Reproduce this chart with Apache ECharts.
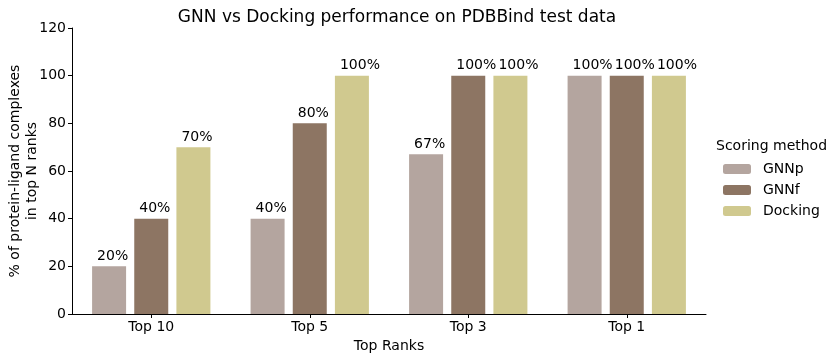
<!DOCTYPE html>
<html><head><meta charset="utf-8">
<script src="https://cdn.jsdelivr.net/npm/echarts@6/dist/echarts.min.js"></script>
<style>html,body{margin:0;padding:0;background:#fff}#c{width:839px;height:360px}</style>
</head><body><div id="c"></div>
<script>
const categories = ['Top 10', 'Top 5', 'Top 3', 'Top 1'];
const seriesNames = ['GNNp', 'GNNf', 'Docking'];
const gnnp = [20, 40, 67, 100];
const gnnf = [40, 80, 100, 100];
const docking = [70, 100, 100, 100];
const yTicks = [0, 20, 40, 60, 80, 100, 120];
const colors = ['#b4a59f', '#8d7563', '#d0c98f'];

const font = 'DejaVu Sans';
const chart = echarts.init(document.getElementById('c'));
const mk = (name, data, color) => ({
  name, type: 'bar', data, barWidth: 34, barGap: '24%',
  itemStyle: { color },
  label: { show: true, position: 'top', align: 'left', offset: [-12, 0], distance: 3,
    formatter: p => p.value + '%', color: '#000', fontFamily: font, fontSize: 14 }
});
chart.setOption({
  animation: false,
  textStyle: { fontFamily: font },
  title: { text: 'GNN vs Docking performance on PDBBind test data', left: 392, top: 4, textAlign: 'center',
    textStyle: { fontFamily: font, fontSize: 17, fontWeight: 'normal', color: '#000' } },
  grid: { left: 72, right: 133, top: 28, bottom: 46, containLabel: false, outerBoundsMode: 'none' },
  legend: { orient: 'vertical', left: 723, top: 162, padding: 0, itemWidth: 28, itemHeight: 10, itemGap: 7,
    data: seriesNames, textStyle: { fontFamily: font, fontSize: 14, color: '#000', padding: [0, 0, 0, 7] } },
  graphic: [{ type: 'text', left: 716, top: 139, style: { text: 'Scoring method', font: '14px "DejaVu Sans"', fill: '#000' } }],
  xAxis: { type: 'category', data: categories, name: 'Top Ranks', nameLocation: 'middle', nameGap: 24,
    nameTextStyle: { fontFamily: font, fontSize: 14, color: '#000' },
    axisLine: { lineStyle: { color: '#000' } }, axisTick: { show: true, alignWithLabel: true, length: 4, lineStyle: { color: '#000' } },
    axisLabel: { color: '#000', fontFamily: font, fontSize: 14, margin: 6 } },
  yAxis: { type: 'value', min: yTicks[0], max: yTicks[yTicks.length - 1], interval: 20,
    name: '% of protein-ligand complexes\nin top N ranks', nameLocation: 'middle', nameGap: 31, nameMoveOverlap: false,
    nameTextStyle: { fontFamily: font, fontSize: 14, color: '#000', lineHeight: 17 },
    axisLine: { show: true, lineStyle: { color: '#000' } }, axisTick: { show: true, length: 4, lineStyle: { color: '#000' } },
    splitLine: { show: false },
    axisLabel: { color: '#000', fontFamily: font, fontSize: 14, margin: 6 } },
  series: [mk(seriesNames[0], gnnp, colors[0]), mk(seriesNames[1], gnnf, colors[1]), mk(seriesNames[2], docking, colors[2])]
});
</script></body></html>
